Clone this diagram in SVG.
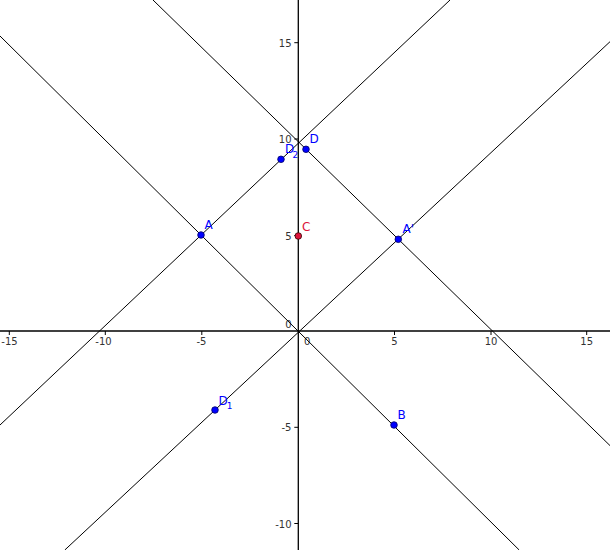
<svg xmlns="http://www.w3.org/2000/svg" width="610" height="550" viewBox="0 0 610 550">
<style>
.ax{stroke:#000;stroke-width:1.3;fill:none}
.tk{stroke:#000;stroke-width:1;fill:none}
.ln{stroke:#000;stroke-width:1;fill:none}
.al{font-family:"DejaVu Sans",sans-serif;font-size:10px;fill:#333}
.pl{font-family:"DejaVu Sans",sans-serif;font-size:12px;fill:#0000ff}
.sub{font-size:9px}
.pt{fill:#0000ff;stroke:#000066;stroke-width:0.8}
.ptr{fill:#dc143c;stroke:#330000;stroke-width:0.8}
</style>
<rect width="610" height="550" fill="#fff"/>
<g id="axes">
<line class="ax" x1="0" y1="331" x2="610" y2="331"/>
<line class="ax" x1="298.3" y1="0" x2="298.3" y2="550"/>
<g class="tk">
<line x1="9.3" y1="331" x2="9.3" y2="335"/>
<line x1="105.3" y1="331" x2="105.3" y2="335"/>
<line x1="201.8" y1="331" x2="201.8" y2="335"/>
<line x1="394.5" y1="331" x2="394.5" y2="335"/>
<line x1="491" y1="331" x2="491" y2="335"/>
<line x1="586.7" y1="331" x2="586.7" y2="335"/>
<line x1="294.3" y1="42.7" x2="298.3" y2="42.7"/>
<line x1="294.3" y1="139" x2="298.3" y2="139"/>
<line x1="294.3" y1="235.5" x2="298.3" y2="235.5"/>
<line x1="294.3" y1="427.3" x2="298.3" y2="427.3"/>
<line x1="294.3" y1="523.5" x2="298.3" y2="523.5"/>
</g>
<g class="al" text-anchor="middle">
<text x="9.5" y="345">-15</text>
<text x="103.5" y="345">-10</text>
<text x="201.5" y="345">-5</text>
<text x="394.5" y="345">5</text>
<text x="491" y="345">10</text>
<text x="586.7" y="345">15</text>
</g>
<text class="al" x="304" y="345">0</text>
<g class="al" text-anchor="end">
<text x="291.5" y="46.7">15</text>
<text x="291.5" y="142.8">10</text>
<text x="291.5" y="239.5">5</text>
<text x="291.5" y="328.3">0</text>
<text x="291.5" y="431.3">-5</text>
<text x="291.5" y="527.5">-10</text>
</g>
</g>
<g id="connectors">
<line class="ln" x1="0" y1="36" x2="519.2" y2="550"/>
<line class="ln" x1="153" y1="0" x2="610" y2="445.6"/>
<line class="ln" x1="0" y1="425" x2="450" y2="0"/>
<line class="ln" x1="64.8" y1="550" x2="610" y2="41.7"/>
</g>
<g id="A"><circle class="pt" cx="201" cy="235" r="3.3"/><text class="pl" x="204.5" y="229">A</text></g>
<g id="C"><circle class="ptr" cx="298.3" cy="236" r="3.3"/><text class="pl" x="302" y="230.5" fill="#dc143c" style="fill:#dc143c">C</text></g>
<g id="A-prime"><circle class="pt" cx="398.3" cy="239.3" r="3.3"/><text class="pl" x="402.5" y="232.5">A'</text></g>
<g id="D"><circle class="pt" cx="306" cy="149.3" r="3.3"/><text class="pl" x="309.5" y="143">D</text></g>
<g id="D2"><circle class="pt" cx="281" cy="159.3" r="3.3"/><text class="pl" x="285" y="152.5">D<tspan class="sub" x="292.5" y="157.5">2</tspan></text></g>
<g id="D1"><circle class="pt" cx="215" cy="410" r="3.3"/><text class="pl" x="218.5" y="404.5">D<tspan class="sub" x="226.8" y="409">1</tspan></text></g>
<g id="B"><circle class="pt" cx="394" cy="425" r="3.3"/><text class="pl" x="397.5" y="418.5">B</text></g>
</svg>
